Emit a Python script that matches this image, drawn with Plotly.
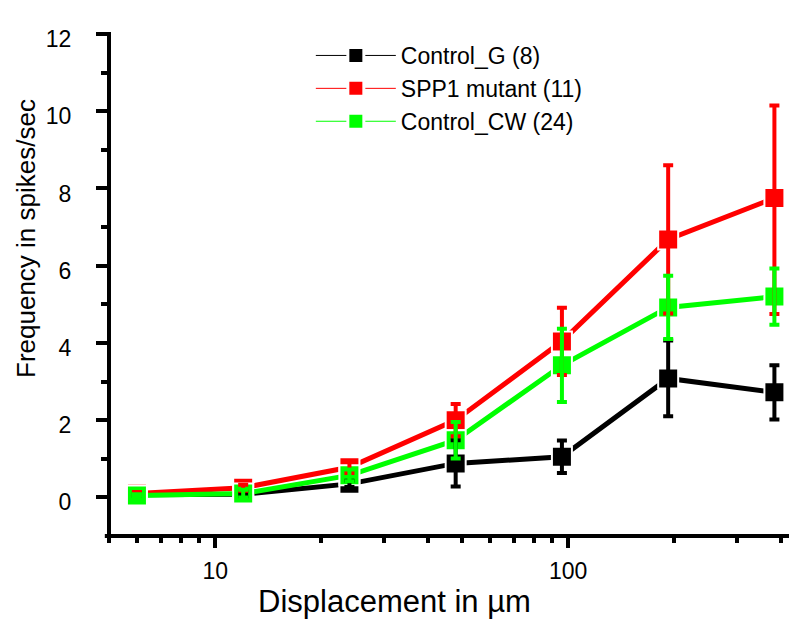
import plotly.graph_objects as go

displacement = [6, 12, 24, 48, 96, 192, 384]

control_g = [0.07, 0.08, 0.35, 0.88, 1.05, 3.08, 2.72]
control_g_err = [0.03, 0.05, 0.08, 0.60, 0.42, 0.98, 0.70]
control_g_err_minus = [0.03, 0.05, 0.08, 0.60, 0.42, 0.98, 0.70]

spp1 = [0.10, 0.25, 0.78, 2.00, 4.04, 6.68, 7.75]
spp1_err = [0.04, 0.08, 0.15, 0.42, 0.87, 1.92, 2.40]
spp1_err_minus = [0.04, 0.08, 0.15, 0.42, 0.87, 1.92, 3.00]

control_cw = [0.05, 0.10, 0.57, 1.48, 3.42, 4.92, 5.20]
control_cw_err = [0.03, 0.10, 0.15, 0.47, 0.95, 0.82, 0.73]
control_cw_err_minus = [0.03, 0.10, 0.15, 0.47, 0.95, 0.82, 0.73]

series = [
    ("Control_G (8)", control_g, control_g_err, control_g_err_minus, "#000000"),
    ("SPP1 mutant (11)", spp1, spp1_err, spp1_err_minus, "#ff0000"),
    ("Control_CW (24)", control_cw, control_cw_err, control_cw_err_minus, "#00ff00"),
]

FONT = "Liberation Sans, Arial, sans-serif"

fig = go.Figure()

# lines + markers
for name, y, err, errm, color in series:
    fig.add_trace(go.Scatter(
        x=displacement, y=y, mode="lines+markers", showlegend=False,
        line=dict(color=color, width=5),
        marker=dict(symbol="square", size=20, color=color,
                    line=dict(color="white", width=2)),
    ))

# error bars drawn on top of all markers
for name, y, err, errm, color in series:
    fig.add_trace(go.Scatter(
        x=displacement, y=y, mode="markers", showlegend=False,
        marker=dict(size=1, opacity=0, color=color), hoverinfo="skip",
        error_y=dict(type="data", array=err, arrayminus=errm, visible=True,
                     color=color, thickness=4, width=5),
    ))

# legend entries with thin lines
for name, y, err, errm, color in series:
    fig.add_trace(go.Scatter(
        x=[None], y=[None], mode="lines+markers", name=name,
        line=dict(color=color, width=1),
        marker=dict(symbol="square", size=16, color=color,
                    line=dict(color="white", width=3)),
    ))

fig.update_layout(
    width=797, height=621,
    margin=dict(l=101, r=0, t=26, b=93),
    paper_bgcolor="white", plot_bgcolor="white",
    font=dict(family=FONT, size=23, color="black"),
    showlegend=True,
    legend=dict(x=0.29, y=1.0, xanchor="left", yanchor="top",
                bgcolor="rgba(0,0,0,0)", itemwidth=80,
                font=dict(size=23), tracegroupgap=0),
)

fig.update_xaxes(
    type="log", range=[0.699, 2.671],
    showline=False, showgrid=False, zeroline=False,
    tickmode="array", tickvals=[10, 100], ticktext=["10", "100"],
    ticks="outside", ticklen=11, tickwidth=4, tickcolor="#000000",
    ticklabelstandoff=3,
    minor=dict(tickmode="array",
               tickvals=[5, 6, 7, 8, 9, 20, 30, 40, 50, 60, 70, 80, 90, 200, 300, 400],
               ticks="outside", ticklen=6, tickwidth=4, tickcolor="#000000", showgrid=False),
    tickfont=dict(size=23),
)

fig.update_yaxes(
    range=[-1, 12],
    showline=False, showgrid=False, zeroline=False,
    tickmode="array", tickvals=[0, 2, 4, 6, 8, 10, 12],
    ticks="outside", ticklen=12, tickwidth=4, tickcolor="#000000",
    ticklabelstandoff=20, ticklabelshift=5,
    minor=dict(tickmode="array", tickvals=[1, 3, 5, 7, 9, 11],
               ticks="outside", ticklen=7, tickwidth=4, tickcolor="#000000", showgrid=False),
    tickfont=dict(size=23),
)

# axis frame lines (left and bottom)
fig.add_shape(type="line", xref="paper", yref="paper", x0=0, x1=0, y0=-0.004, y1=1.004,
              line=dict(color="black", width=4), layer="above")
fig.add_shape(type="line", xref="paper", yref="paper", x0=-0.006, x1=1, y0=0, y1=0,
              line=dict(color="black", width=4), layer="above")

fig.add_annotation(text="Displacement in µm", xref="paper", yref="paper",
                   x=(386 - 101) / 696, y=-(594 - 528) / 502,
                   xanchor="center", yanchor="middle", showarrow=False,
                   font=dict(size=31))
fig.add_annotation(text="Frequency in spikes/sec", xref="paper", yref="paper",
                   x=-(101 - 18) / 696, y=(528 - 231) / 502, textangle=-90,
                   xanchor="center", yanchor="middle", showarrow=False,
                   font=dict(size=26))

fig.write_html("out.html")
